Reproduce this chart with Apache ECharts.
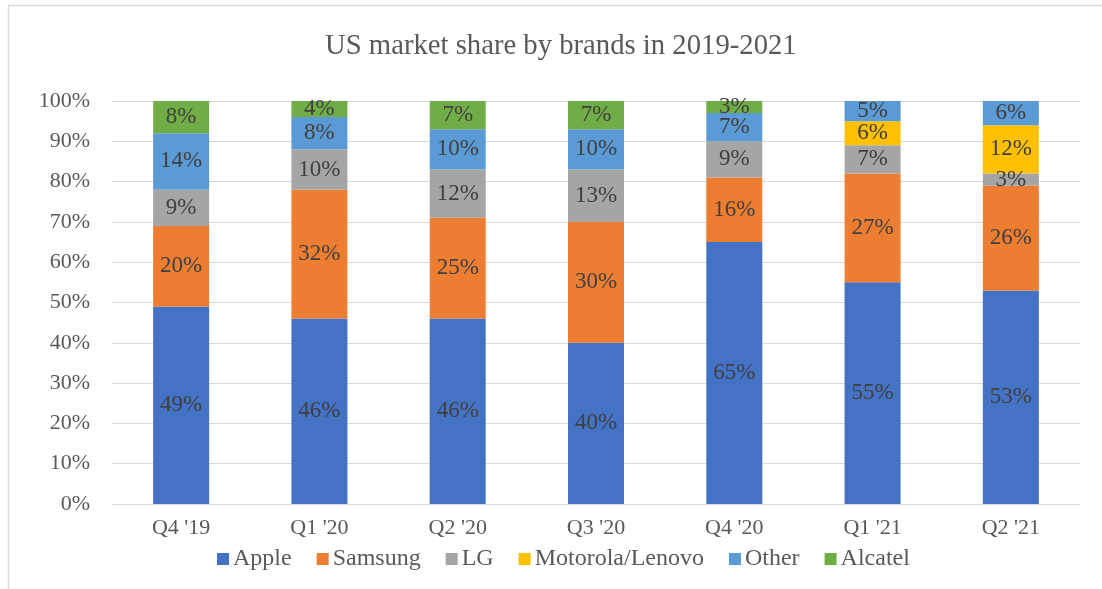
<!DOCTYPE html>
<html>
<head>
<meta charset="utf-8">
<script src="https://cdn.jsdelivr.net/npm/echarts@6/dist/echarts.min.js"></script>
<style>
html,body{margin:0;padding:0;background:#fff;}
#chart{width:1102px;height:589px;}
</style>
</head>
<body>
<div id="chart"></div>
<script>
const categories = ["Q4 '19", "Q1 '20", "Q2 '20", "Q3 '20", "Q4 '20", "Q1 '21", "Q2 '21"];
const apple    = [49, 46, 46, 40, 65, 55, 53];
const samsung  = [20, 32, 25, 30, 16, 27, 26];
const lg       = [9, 10, 12, 13, 9, 7, 3];
const motorola = [0, 0, 0, 0, 0, 6, 12];
const other    = [14, 8, 10, 10, 7, 5, 6];
const alcatel  = [8, 4, 7, 7, 3, 0, 0];
const yTicks = [0, 10, 20, 30, 40, 50, 60, 70, 80, 90, 100];

const FONT = '"Liberation Serif", "Times New Roman", serif';
const seriesDefs = [
  ['Apple', apple, '#4472C4'],
  ['Samsung', samsung, '#ED7D31'],
  ['LG', lg, '#A5A5A5'],
  ['Motorola/Lenovo', motorola, '#FFC000'],
  ['Other', other, '#5B9BD5'],
  ['Alcatel', alcatel, '#70AD47']
];

const chart = echarts.init(document.getElementById('chart'), null, {renderer: 'canvas'});
chart.setOption({
  animation: false,
  backgroundColor: '#fff',
  textStyle: {fontFamily: FONT},
  title: {
    text: 'US market share by brands in 2019-2021',
    left: 320,
    top: 27,
    textStyle: {fontFamily: FONT, fontSize: 28.7, fontWeight: 'normal', color: '#595959'}
  },
  legend: {
    top: 542,
    left: 212,
    itemWidth: 12,
    itemHeight: 12,
    itemGap: 25,
    icon: 'rect',
    textStyle: {fontFamily: FONT, fontSize: 24, color: '#595959', padding: [0, 0, 0, -1]},
    data: seriesDefs.map(s => s[0])
  },
  grid: {left: 112, right: 22, top: 101, bottom: 85, containLabel: false},
  xAxis: {
    type: 'category',
    data: categories,
    axisLine: {show: true, lineStyle: {color: '#d9d9d9', width: 1}},
    axisTick: {show: false},
    axisLabel: {fontFamily: FONT, fontSize: 22, color: '#595959', margin: 13}
  },
  yAxis: {
    type: 'value',
    min: yTicks[0],
    max: yTicks[yTicks.length - 1],
    interval: 10,
    axisLine: {show: false},
    axisTick: {show: false},
    splitLine: {lineStyle: {color: '#d9d9d9', width: 1}},
    axisLabel: {fontFamily: FONT, fontSize: 22, color: '#595959', margin: 22, formatter: v => v + '%'}
  },
  series: seriesDefs.map(([name, data, color]) => ({
    name: name,
    type: 'bar',
    stack: 'total',
    barWidth: 56,
    data: data,
    itemStyle: {color: color},
    label: {
      show: true,
      position: 'inside',
      fontFamily: FONT,
      fontSize: 23,
      color: '#404040',
      formatter: p => (p.value ? p.value + '%' : '')
    }
  })),
  graphic: [
    {type: 'line', shape: {x1: 8, y1: 5.5, x2: 1102, y2: 5.5}, style: {stroke: '#d9d9d9', lineWidth: 1.5}},
    {type: 'line', shape: {x1: 8.5, y1: 5, x2: 8.5, y2: 589}, style: {stroke: '#d9d9d9', lineWidth: 1.5}}
  ]
});
</script>
</body>
</html>
